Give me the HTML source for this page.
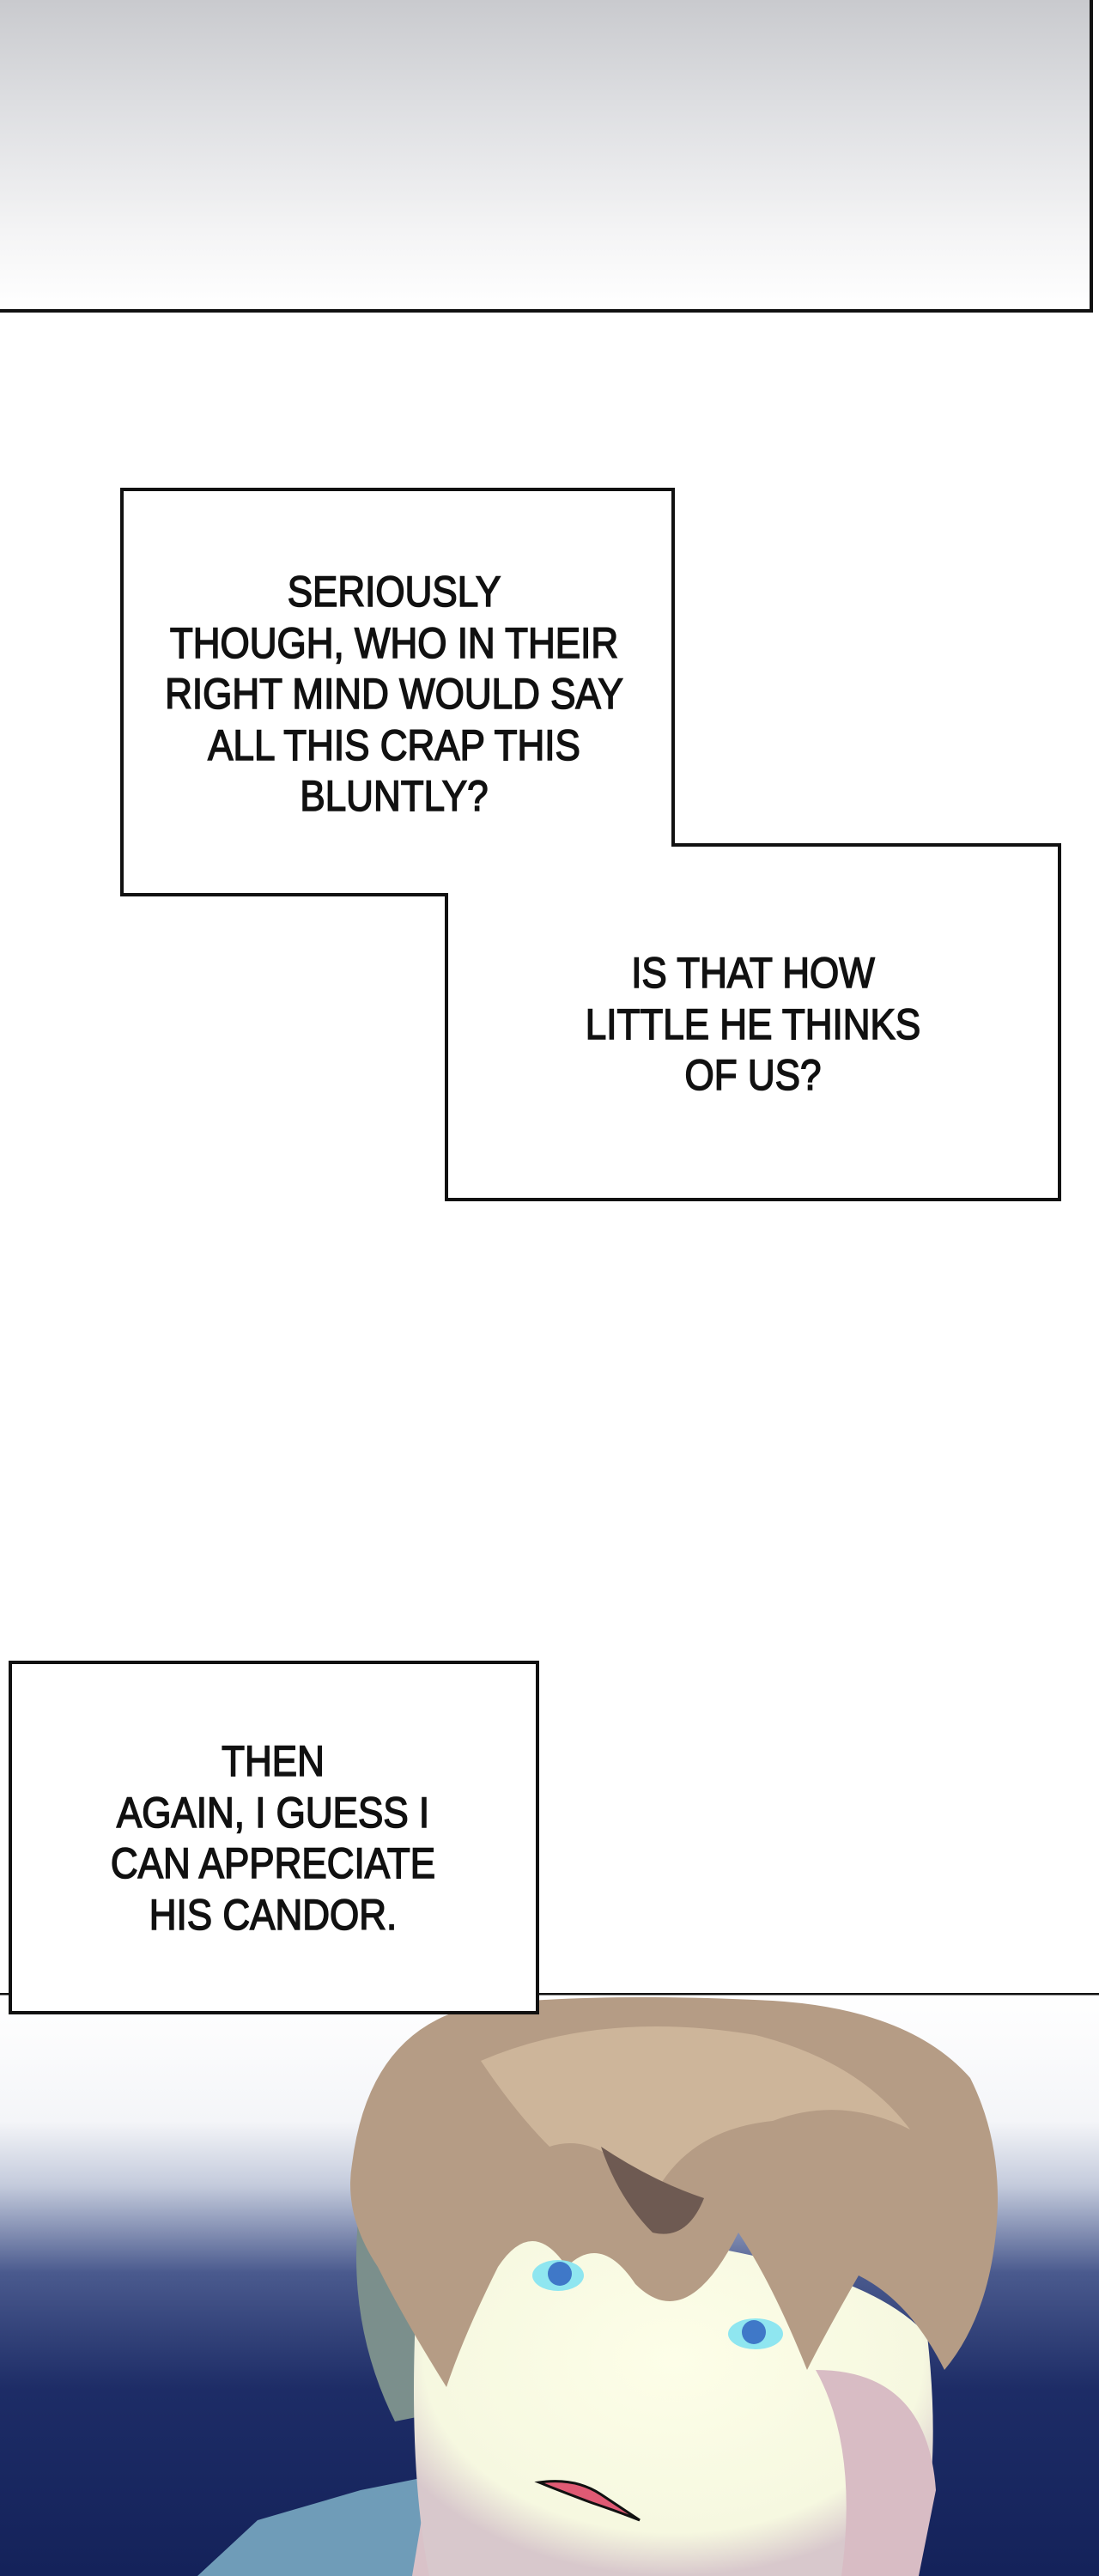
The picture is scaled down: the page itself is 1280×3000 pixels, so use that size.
<!DOCTYPE html>
<html><head><meta charset="utf-8"><style>
html,body{margin:0;padding:0;background:#fff;}
body{width:1280px;height:3000px;position:relative;overflow:hidden;}
.t{position:absolute;font-family:"Liberation Sans Narrow","Liberation Sans",sans-serif;font-size:50px;line-height:59.5px;text-align:center;color:#111;-webkit-text-stroke:1.6px #111;white-space:nowrap;transform:translateX(-50%) scaleX(0.88);}
</style></head><body>
<div style="position:absolute;left:0;top:0;width:1269px;height:360px;border-right:4px solid #111;border-bottom:4px solid #111;background:linear-gradient(180deg,#c9cace 0%,#dedfe2 35%,#f4f4f5 75%,#fff 100%);"></div>

<svg style="position:absolute;left:0;top:0" width="1280" height="3000">
<polygon points="142,570 784,570 784,984 1234,984 1234,1397 520,1397 520,1042 142,1042" fill="#fff" stroke="#111" stroke-width="4"/>
</svg>
<div class="t" style="left:459px;top:660px;">SERIOUSLY<br>THOUGH, WHO IN THEIR<br>RIGHT MIND WOULD SAY<br>ALL THIS CRAP THIS<br>BLUNTLY?</div>
<div class="t" style="left:877px;top:1104px;">IS THAT HOW<br>LITTLE HE THINKS<br>OF US?</div>

<svg style="position:absolute;left:0;top:2321px" width="1280" height="679" viewBox="0 2321 1280 679">
<defs>
<linearGradient id="bg" x1="0" y1="0" x2="0" y2="1">
<stop offset="0" stop-color="#ffffff"/><stop offset="0.22" stop-color="#f4f5f8"/>
<stop offset="0.33" stop-color="#c4cbdc"/><stop offset="0.48" stop-color="#4a5a8e"/>
<stop offset="0.68" stop-color="#1d2c66"/>
<stop offset="1" stop-color="#14225a"/></linearGradient>
<radialGradient id="face" cx="0.5" cy="0.4" r="0.6"><stop offset="0" stop-color="#fdfee8"/><stop offset="0.8" stop-color="#f6f8e0"/><stop offset="1" stop-color="#d8c8cc"/></radialGradient>
</defs>
<rect x="0" y="2321" width="1280" height="679" fill="url(#bg)"/>
<line x1="0" y1="2322" x2="1280" y2="2322" stroke="#111" stroke-width="3"/>
<path d="M230,3000 L300,2935 L420,2900 L520,2880 L700,2960 L760,3000 Z" fill="#6f9cb8"/>
<path d="M480,3000 L500,2880 L700,2870 L1000,2900 L1060,3000 Z" fill="#d9c2c8"/>
<path d="M420,2560 Q400,2700 460,2820 L560,2800 L540,2560 Z" fill="#7b8f8c"/>
<path d="M490,2600 Q520,2560 700,2600 Q1000,2630 1080,2720 Q1100,2900 1060,3000 L500,3000 Q470,2850 490,2600 Z" fill="url(#face)"/>
<path d="M950,2760 Q1080,2760 1090,2900 L1070,3000 L980,3000 Q1000,2850 950,2760Z" fill="#d8bcc4"/>
<path d="M410,2520 Q430,2360 560,2335 Q700,2320 900,2330 Q1060,2340 1130,2420 Q1170,2500 1160,2600 Q1150,2700 1100,2760 Q1060,2680 1000,2650 Q960,2720 940,2760 Q900,2660 860,2600 Q800,2720 740,2660 Q700,2600 660,2640 Q620,2580 580,2640 Q540,2720 520,2780 Q470,2700 440,2640 Q400,2580 410,2520 Z" fill="#b59c85"/>
<path d="M560,2400 Q700,2340 880,2370 Q1000,2400 1060,2480 Q980,2440 900,2470 Q800,2480 760,2560 Q700,2480 640,2500 Q600,2460 560,2400Z" fill="#cdb59a"/>
<path d="M700,2500 Q760,2540 820,2560 Q800,2610 760,2600 Q720,2560 700,2500Z" fill="#6e5a52"/>
<ellipse cx="650" cy="2650" rx="30" ry="18" fill="#8fe6f0"/>
<circle cx="652" cy="2648" r="14" fill="#3f78c8"/>
<ellipse cx="880" cy="2718" rx="32" ry="18" fill="#8fe6f0"/>
<circle cx="878" cy="2716" r="14" fill="#3f78c8"/>
<path d="M628,2891 Q670,2885 700,2905 L745,2935 Q720,2925 690,2915 Q650,2900 628,2891Z" fill="#e05a74" stroke="#111" stroke-width="3"/>
</svg>

<div style="position:absolute;left:10px;top:1934px;width:610px;height:404px;border:4px solid #111;background:#fff;"></div>
<div class="t" style="left:318px;top:2022px;">THEN<br>AGAIN, I GUESS I<br>CAN APPRECIATE<br>HIS CANDOR.</div>
</body></html>
